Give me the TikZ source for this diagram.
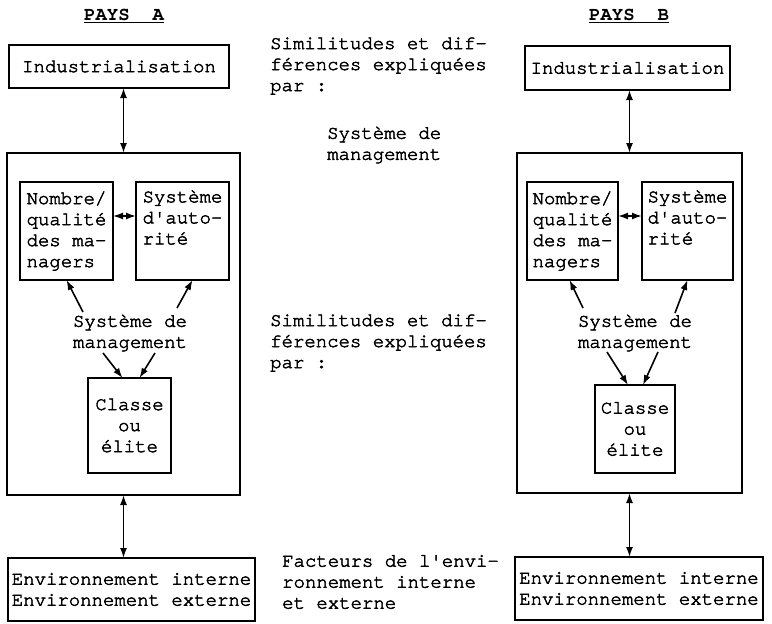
\documentclass[tikz,border=0pt]{standalone}
\usepackage{fontspec}
\setmainfont{texgyrecursor-regular.otf}[FakeBold=2.5,BoldFont=texgyrecursor-bold.otf,BoldFeatures={FakeBold=0}]
\usetikzlibrary{arrows.meta}
\begin{document}
\begin{tikzpicture}[x=1pt,y=-1pt,
  font=\fontsize{19}{21}\selectfont,
  box/.style={draw,line width=1.7pt,inner sep=0pt,outer sep=0pt,align=left},
  lbl/.style={inner sep=0pt,align=left},
  dbl/.style={line width=1.6pt,{Latex[length=10pt,width=7pt]}-{Latex[length=10pt,width=7pt]}},
  arr/.style={line width=1.6pt,-{Latex[length=10pt,width=7pt]}}]
\useasboundingbox (0,0) rectangle (772,624);
% ---------- PAYS A ----------
\node[lbl] (hA) at (124,16) {\textbf{\underline{PAYS~~A}}};
\node[box,minimum width=220pt,minimum height=43pt] (indA) at (119,66.5) {Industrialisation};
\node[box,minimum width=233pt,minimum height=342pt] (bigA) at (123.5,324) {};
\node[box,minimum width=93pt,minimum height=98pt] (nomA) at (66.5,231) {Nombre/\\qualité\\des ma-\\nagers};
\node[box,minimum width=93pt,minimum height=98pt] (sysA) at (182.5,231) {Système\\d\textquotesingle auto-\\rité\\\strut};
\node[lbl,align=center] (msA) at (130,333) {Système de\\management};
\node[box,align=center,minimum width=83pt,minimum height=95pt] (claA) at (129.5,425.5) {Classe\\ou\\élite};
\node[box,minimum width=247pt,minimum height=63pt] (envA) at (131.5,589.5) {Environnement interne\\Environnement externe};
\coordinate (pA1) at (83,312);
\coordinate (pA2) at (177,308);
\coordinate (pA3) at (103,353);
\coordinate (pA4) at (155,353);
\draw[dbl] (indA.south -| bigA.north) -- (bigA.north);
\draw[dbl] ([yshift=15pt]nomA.east) -- ([yshift=15pt]sysA.west);
\draw[dbl] (bigA.south) -- (bigA.south |- envA.north);
\draw[arr] (pA1) -- (nomA.south);
\draw[arr] (pA2) -- ([xshift=10pt]sysA.south);
\draw[arr] (pA3) -- ([xshift=-7pt]claA.north);
\draw[arr] (pA4) -- ([xshift=10pt]claA.north);
% ---------- PAYS B ----------
\node[lbl] (hB) at (629,16) {\textbf{\underline{PAYS~~B}}};
\node[box,minimum width=205pt,minimum height=44pt] (indB) at (627.5,68) {Industrialisation};
\node[box,minimum width=225pt,minimum height=340pt] (bigB) at (629.5,323) {};
\node[box,minimum width=91pt,minimum height=98pt] (nomB) at (572.5,231) {Nombre/\\qualité\\des ma-\\nagers};
\node[box,minimum width=91pt,minimum height=98pt] (sysB) at (687.5,231) {Système\\d\textquotesingle auto-\\rité\\\strut};
\node[lbl,align=center] (msB) at (635,333) {Système de\\management};
\node[box,align=center,minimum width=80pt,minimum height=88pt] (claB) at (635,429) {Classe\\ou\\élite};
\node[box,minimum width=248pt,minimum height=63pt] (envB) at (639,588.5) {Environnement interne\\Environnement externe};
\coordinate (pB1) at (583,308);
\coordinate (pB2) at (675,313);
\coordinate (pB3) at (607,352);
\coordinate (pB4) at (658,352);
\draw[dbl] (indB.south -| bigB.north) -- (bigB.north);
\draw[dbl] ([yshift=15pt]nomB.east) -- ([yshift=15pt]sysB.west);
\draw[dbl] (bigB.south) -- (bigB.south |- envB.north);
\draw[arr] (pB1) -- ([xshift=-3pt]nomB.south);
\draw[arr] (pB2) -- (sysB.south);
\draw[arr] (pB3) -- ([xshift=-7pt]claB.north);
\draw[arr] (pB4) -- ([xshift=8pt]claB.north);
% ---------- middle texts ----------
\node[lbl,anchor=west] (t1) at (270,66) {Similitudes et dif-\\férences expliquées\\par :};
\node[lbl,anchor=west] (t2) at (327,145) {Système de\\management};
\node[lbl,anchor=west] (t3) at (270,343) {Similitudes et dif-\\férences expliquées\\par :};
\node[lbl,anchor=west] (t4) at (282,582) {Facteurs de l\textquotesingle envi-\\ronnement interne\\et externe};
\end{tikzpicture}
\end{document}
